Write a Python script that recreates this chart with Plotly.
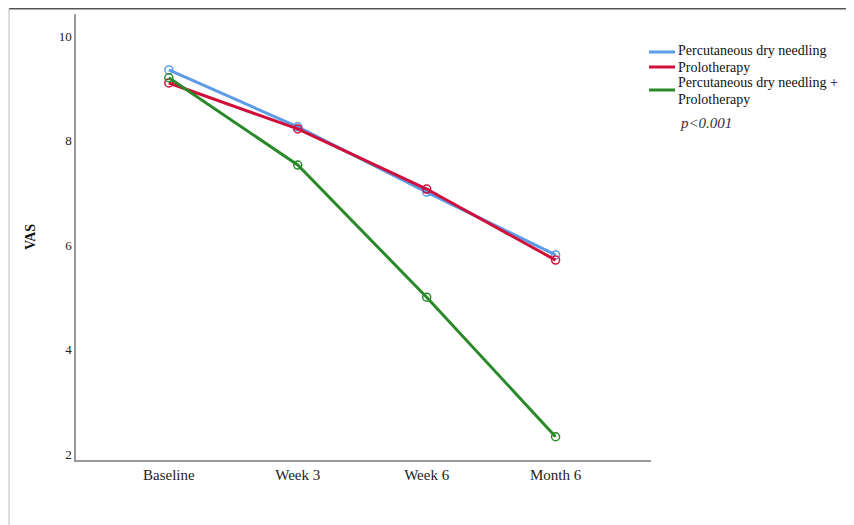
import plotly.graph_objects as go

categories = ["Baseline", "Week 3", "Week 6", "Month 6"]
series_names = [
    "Percutaneous dry needling",
    "Prolotherapy",
    "Percutaneous dry needling +<br>Prolotherapy",
]
pdn_values = [9.35, 8.26, 7.01, 5.81]
prolo_values = [9.10, 8.22, 7.07, 5.71]
combo_values = [9.20, 7.53, 5.00, 2.33]
y_ticks = [2, 4, 6, 8, 10]

colors = ["#5b9be8", "#d0103a", "#2a8a2a"]
values = [pdn_values, prolo_values, combo_values]
font_family = "Liberation Serif, Times New Roman, serif"

# figure geometry (page body has 8px margin)
W, H = 846, 517
L, R, T, B = 68, 203, 6, 65
PW, PH = W - L - R, H - T - B


def px(x):
    return (x - L) / PW


def py(y):
    return (T + PH - y) / PH


fig = go.Figure()
for name, vals, col in zip(series_names, values, colors):
    fig.add_trace(go.Scatter(
        x=list(range(len(categories))), y=vals, name=name,
        mode="lines+markers",
        line=dict(color=col, width=3),
        marker=dict(symbol="circle-open", size=8, color=col, line=dict(width=1.5)),
        hoverinfo="skip", showlegend=False,
    ))

fig.update_layout(
    width=W, height=H,
    margin=dict(l=L, r=R, t=T, b=B),
    paper_bgcolor="white", plot_bgcolor="white",
    font=dict(family=font_family, size=12, color="#222"),
    showlegend=False,
    xaxis=dict(
        range=[-0.72, 3.74], tickmode="array",
        tickvals=list(range(len(categories))), ticktext=categories,
        showgrid=False, zeroline=False, showline=True,
        linecolor="#999", linewidth=1.5, ticks="",
        tickfont=dict(family=font_family, size=15, color="#222"),
    ),
    yaxis=dict(
        range=[1.885, 10.42], tickvals=y_ticks,
        showgrid=False, zeroline=False, showline=True,
        linecolor="#999", linewidth=1.5, ticks="",
        tickfont=dict(family=font_family, size=13, color="#222"),
        title=dict(text="<b>VAS</b>", standoff=20,
                   font=dict(family=font_family, size=14, color="#111")),
    ),
)

# manual legend (figure pixel positions)
legend_line_y = [44, 59, 82]
legend_text = [[("Percutaneous dry needling", 42)],
               [("Prolotherapy", 59)],
               [("Percutaneous dry needling +", 74), ("Prolotherapy", 91)]]
for col, ly, texts in zip(colors, legend_line_y, legend_text):
    fig.add_shape(type="line", xref="paper", yref="paper",
                  x0=px(641), x1=px(667), y0=py(ly), y1=py(ly),
                  line=dict(color=col, width=3))
    for txt, ty in texts:
        fig.add_annotation(
            xref="paper", yref="paper", x=px(669), y=py(ty),
            text=txt, showarrow=False, xanchor="left", yanchor="middle",
            borderpad=0,
            font=dict(family=font_family, size=14, color="#111"),
        )

fig.add_annotation(
    xref="paper", yref="paper", x=px(671), y=py(115),
    text="<i>p&lt;0.001</i>", showarrow=False, xanchor="left", yanchor="middle",
    borderpad=0,
    font=dict(family=font_family, size=15, color="#333"),
)

# image frame lines
top_y = py(0.5)
left_x = px(1)
fig.add_shape(type="line", xref="paper", yref="paper",
              x0=left_x, x1=px(W), y0=top_y, y1=top_y,
              line=dict(color="#555", width=2))
fig.add_shape(type="line", xref="paper", yref="paper",
              x0=left_x, x1=left_x, y0=top_y, y1=py(H),
              line=dict(color="#bbb", width=1))

fig.write_html("out.html")
